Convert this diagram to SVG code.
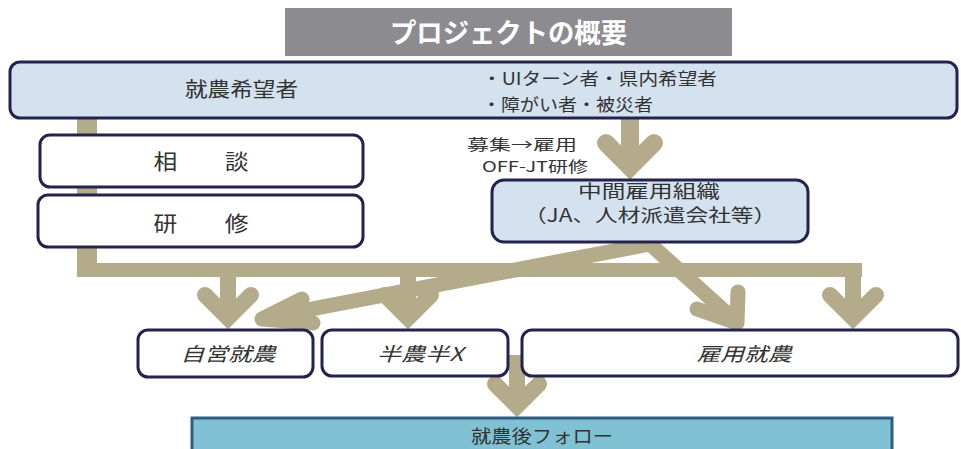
<svg xmlns="http://www.w3.org/2000/svg" width="961" height="449" viewBox="0 0 961 449">
<style>
.t{font-family:"Noto Sans CJK JP","Noto Sans",sans-serif;fill:#333;}
.box{fill:#fff;stroke:#23234e;stroke-width:3;}
.blue{fill:#d4e1ef;stroke:#23234e;stroke-width:3;}
.ln{fill:none;stroke:#b4ab8b;stroke-width:16;}
.hd{fill:none;stroke:#b4ab8b;stroke-width:16;stroke-linecap:round;stroke-linejoin:miter;stroke-miterlimit:4;}
.hr{fill:none;stroke:#b4ab8b;stroke-width:15;stroke-linecap:round;stroke-linejoin:round;}
.it{font-style:italic;font-size:19px;}
</style>
<rect width="961" height="449" fill="#fff"/>
<g id="title">
<rect x="285" y="8" width="447" height="48" fill="#8c8c90"/>
<text class="t" x="390" y="43" font-size="27" font-weight="bold" style="fill:#fff" textLength="237" lengthAdjust="spacingAndGlyphs">プロジェクトの概要</text>
</g>
<g id="connectors">
<rect x="77" y="118" width="20" height="159" fill="#b4ab8b"/>
<rect x="77" y="263" width="785" height="14" fill="#b4ab8b"/>
<line class="ln" x1="228" y1="277" x2="228" y2="312"/>
<polyline class="hd" points="205,295 228,318 251,295"/>
<line class="ln" x1="408" y1="277" x2="408" y2="312"/>
<polyline class="hd" points="385,295 408,318 431,295"/>
<line class="ln" x1="853" y1="270" x2="853" y2="312"/>
<polyline class="hd" points="830,295 853,318 876,295"/>
<line class="ln" x1="630" y1="118" x2="630" y2="160" style="stroke-width:18"/>
<polyline class="hd" points="606,143 630,167 654,143" style="stroke-width:18"/>
<line class="ln" x1="650" y1="244" x2="275" y2="316" style="stroke-width:15"/>
<polyline class="hr" points="302,299 262,319 313,323"/>
<line class="ln" x1="650" y1="244" x2="730" y2="316" style="stroke-width:15"/>
<polyline class="hr" points="697,309 737,323 738,292"/>
<line class="ln" x1="517" y1="355" x2="517" y2="400"/>
<polyline class="hd" points="495,384 517,406 539,384"/>
<text class="t" x="467" y="150" font-size="15" textLength="110" lengthAdjust="spacingAndGlyphs">募集→雇用</text>
<text class="t" x="482" y="172" font-size="15" textLength="106" lengthAdjust="spacingAndGlyphs">OFF-JT研修</text>
</g>
<g id="applicant">
<rect class="blue" x="10" y="62" width="947" height="56" rx="10"/>
<text class="t" x="185" y="97" font-size="20" textLength="113" lengthAdjust="spacingAndGlyphs">就農希望者</text>
<text class="t" x="482" y="85" font-size="17" textLength="235" lengthAdjust="spacingAndGlyphs">・UIターン者・県内希望者</text>
<text class="t" x="482" y="111" font-size="17" textLength="171" lengthAdjust="spacingAndGlyphs">・障がい者・被災者</text>
</g>
<g id="consult">
<rect class="box" x="40" y="135" width="323" height="52" rx="10"/>
<text class="t" x="201" y="169" font-size="21" text-anchor="middle" textLength="95" lengthAdjust="spacingAndGlyphs">相　　談</text>
</g>
<g id="training">
<rect class="box" x="38" y="195" width="325" height="52" rx="10"/>
<text class="t" x="201" y="231" font-size="21" text-anchor="middle" textLength="95" lengthAdjust="spacingAndGlyphs">研　　修</text>
</g>
<g id="intermediary">
<rect class="blue" x="492" y="180" width="316" height="62" rx="12"/>
<text class="t" x="649" y="198" font-size="18" text-anchor="middle" textLength="142" lengthAdjust="spacingAndGlyphs">中間雇用組織</text>
<text class="t" x="650" y="222" font-size="18" text-anchor="middle" textLength="252" lengthAdjust="spacingAndGlyphs">（JA、人材派遣会社等）</text>
</g>
<g id="self">
<rect class="box" x="138" y="330" width="175" height="47" rx="10"/>
<text class="t it" x="228" y="361" text-anchor="middle" textLength="95" lengthAdjust="spacingAndGlyphs">自営就農</text>
</g>
<g id="halfx">
<rect class="box" x="322" y="330" width="186" height="46" rx="10"/>
<text class="t it" x="420" y="361" text-anchor="middle" textLength="86" lengthAdjust="spacingAndGlyphs">半農半X</text>
</g>
<g id="employed">
<rect class="box" x="522" y="330" width="436" height="46" rx="10"/>
<text class="t it" x="744" y="361" text-anchor="middle" textLength="95" lengthAdjust="spacingAndGlyphs">雇用就農</text>
</g>
<g id="follow">
<rect x="192" y="418" width="700" height="50" fill="#80c1d3" stroke="#2f5f80" stroke-width="3"/>
<text class="t" x="542" y="443" font-size="18" text-anchor="middle" textLength="142" lengthAdjust="spacingAndGlyphs">就農後フォロー</text>
</g>
</svg>
